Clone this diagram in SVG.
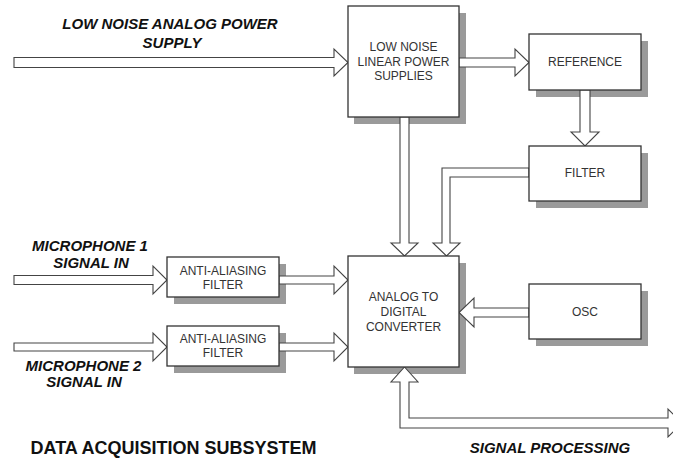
<svg xmlns="http://www.w3.org/2000/svg" width="673" height="461" viewBox="0 0 673 461">
<style>
.box{fill:#fff;stroke:#333;stroke-width:1.3}
.sh{fill:#9a9a9a}
.arr{fill:#fff;stroke:#444;stroke-width:1.1;stroke-linejoin:miter}
.bt{font-family:"Liberation Sans",Arial,sans-serif;font-size:12px;fill:#333;text-anchor:middle}
.lab{font-family:"Liberation Sans",Arial,sans-serif;font-size:15px;font-weight:bold;font-style:italic;fill:#111;text-anchor:middle}
.title{font-family:"Liberation Sans",Arial,sans-serif;font-size:18px;font-weight:bold;fill:#111;text-anchor:middle}
</style>
<rect width="673" height="461" fill="#fff"/>
<g id="shadows">
<rect class="sh" x="354" y="13" width="112" height="111"/>
<rect class="sh" x="536" y="41" width="112" height="56"/>
<rect class="sh" x="536" y="153" width="112" height="55"/>
<rect class="sh" x="536" y="291" width="112" height="55"/>
<rect class="sh" x="354" y="263" width="112" height="111"/>
<rect class="sh" x="174" y="264" width="112" height="40"/>
<rect class="sh" x="174" y="333" width="112" height="40"/>
</g>
<g id="connectors">
<polygon class="arr" points="14,57.5 334,57.5 334,49 348,62.5 334,76 334,67.5 14,67.5"/>
<polygon class="arr" points="459,58 515,58 515,49 529,62.5 515,76 515,67 459,67"/>
<polygon class="arr" points="580,90 590,90 590,132 599,132 585,146 571,132 580,132"/>
<polygon class="arr" points="400,117 409,117 409,243 418,243 404.5,256 391,243 400,243"/>
<polygon class="arr" points="529,168 442,168 442,243 433,243 446.5,256 460,243 450,243 450,177 529,177"/>
<polygon class="arr" points="14,275.5 153,275.5 153,266 167,280 153,294 153,284.5 14,284.5"/>
<polygon class="arr" points="279,276 334,276 334,266 348,280 334,294 334,284 279,284"/>
<polygon class="arr" points="14,343 153,343 153,333 167,347 153,361 153,351 14,351"/>
<polygon class="arr" points="279,343 334,343 334,333 348,347 334,361 334,351 279,351"/>
<polygon class="arr" points="529,308 474,308 474,298 459,312.5 474,327 474,317 529,317"/>
<polygon class="arr" points="404.5,367 418,382 409,382 409,418 668,418 668,409 682,423 668,437 668,428 400,428 400,382 391,382"/>
</g>
<g id="lnlps">
<rect class="box" x="348" y="6" width="111" height="111"/>
<text class="bt" x="403.5" y="51">LOW NOISE</text>
<text class="bt" x="403.5" y="65.5">LINEAR POWER</text>
<text class="bt" x="403.5" y="80">SUPPLIES</text>
</g>
<g id="reference">
<rect class="box" x="529" y="34" width="112" height="56"/>
<text class="bt" x="585" y="66">REFERENCE</text>
</g>
<g id="filter">
<rect class="box" x="529" y="146" width="112" height="55"/>
<text class="bt" x="585" y="177">FILTER</text>
</g>
<g id="osc">
<rect class="box" x="529" y="284" width="112" height="55"/>
<text class="bt" x="585" y="316">OSC</text>
</g>
<g id="adc">
<rect class="box" x="348" y="256" width="111" height="111"/>
<text class="bt" x="403.5" y="301">ANALOG TO</text>
<text class="bt" x="403.5" y="316">DIGITAL</text>
<text class="bt" x="403.5" y="331">CONVERTER</text>
</g>
<g id="aaf1">
<rect class="box" x="167" y="257" width="112" height="40"/>
<text class="bt" x="223" y="275">ANTI-ALIASING</text>
<text class="bt" x="223" y="289">FILTER</text>
</g>
<g id="aaf2">
<rect class="box" x="167" y="326" width="112" height="40"/>
<text class="bt" x="223" y="343">ANTI-ALIASING</text>
<text class="bt" x="223" y="357">FILTER</text>
</g>
<g id="labels">
<text class="lab" x="170" y="29">LOW NOISE ANALOG POWER</text>
<text class="lab" x="172" y="47.5">SUPPLY</text>
<text class="lab" x="90" y="250.5">MICROPHONE 1</text>
<text class="lab" x="91" y="267.5">SIGNAL IN</text>
<text class="lab" x="83.5" y="370.5">MICROPHONE 2</text>
<text class="lab" x="84" y="387">SIGNAL IN</text>
<text class="lab" x="550" y="453">SIGNAL PROCESSING</text>
<text class="title" x="173.5" y="454">DATA ACQUISITION SUBSYSTEM</text>
</g>
</svg>
